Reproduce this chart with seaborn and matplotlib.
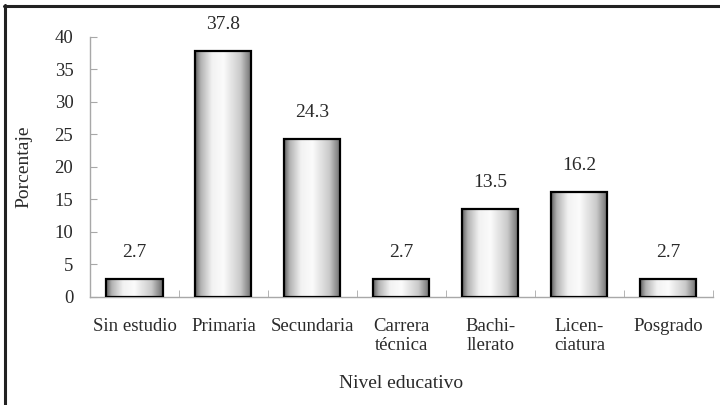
import numpy as np
import pandas as pd
import matplotlib
matplotlib.use("Agg")
import matplotlib.pyplot as plt
from matplotlib.colors import LinearSegmentedColormap
from matplotlib.lines import Line2D
import seaborn as sns

# datos
categorias = ["Sin estudio", "Primaria", "Secundaria", "Carrera\ntécnica",
              "Bachi-\nllerato", "Licen-\nciatura", "Posgrado"]
porcentajes = [2.7, 37.8, 24.3, 2.7, 13.5, 16.2, 2.7]
etiquetas = ["2.7", "37.8", "24.3", "2.7", "13.5", "16.2", "2.7"]

df = pd.DataFrame({"nivel": categorias, "pct": porcentajes})

sns.set_style("white")
plt.rcParams["font.family"] = ["Liberation Serif", "DejaVu Serif"]
texto = "#2a2a2a"
gris = "#a8a8a8"

fig = plt.figure(figsize=(7.2, 4.05), dpi=100)
ax = fig.add_axes([0.125, 0.2667, 0.865, 0.642])

sns.barplot(data=df, x="nivel", y="pct", ax=ax, width=0.63,
            facecolor="none", edgecolor="black", linewidth=1.6, zorder=3)

# degradado tipo cilindro dentro de cada barra
cmap = LinearSegmentedColormap.from_list(
    "cil", [(0, "#5e5e5e"), (0.1, "#b2b2b2"), (0.3, "#f2f2f2"), (0.5, "#fbfbfb"),
            (0.8, "#cacaca"), (1, "#6a6a6a")])
grad = np.linspace(0, 1, 256).reshape(1, -1)
for p in ax.patches:
    x0, y0 = p.get_x(), p.get_y()
    w, h = p.get_width(), p.get_height()
    im = ax.imshow(grad, cmap=cmap, aspect="auto", extent=[x0, x0 + w, y0, y0 + h],
                   zorder=2, interpolation="bicubic")
    im.set_clip_path(p)

for i, p in enumerate(ax.patches):
    ax.annotate(etiquetas[i], (p.get_x() + p.get_width() / 2, p.get_height()),
                xytext=(0, 13), textcoords="offset points", ha="center", va="bottom",
                fontsize=14, color=texto)

ax.set_xlim(-0.5, len(categorias) - 0.5)
ax.set_ylim(0, 40)
ax.set_yticks(range(0, 41, 5))
ax.set_xticks(np.arange(-0.5, len(categorias), 1), minor=True)

sns.despine(ax=ax, top=True, right=True)
for s in ["left", "bottom"]:
    ax.spines[s].set_color(gris)
    ax.spines[s].set_linewidth(1.0)

ax.tick_params(axis="y", direction="in", length=5, color=gris, labelsize=13.5,
               labelcolor=texto, pad=12, left=True)
ax.tick_params(axis="x", which="major", length=0, labelsize=13.5, labelcolor=texto, pad=15)
ax.tick_params(axis="x", which="minor", direction="in", length=5, color=gris, bottom=True)

ax.set_xlabel("Nivel educativo", fontsize=14, color=texto, labelpad=15)
ax.set_ylabel("Porcentaje", fontsize=14, color=texto, labelpad=16)

# marco de la figura (arriba e izquierda)
fig.add_artist(Line2D([0.006, 1.0], [0.986, 0.986], transform=fig.transFigure,
                      color="#222222", linewidth=2.2))
fig.add_artist(Line2D([0.007, 0.007], [0.0, 0.987], transform=fig.transFigure,
                      color="#222222", linewidth=2.2))

fig.savefig("out.png", dpi=100)
